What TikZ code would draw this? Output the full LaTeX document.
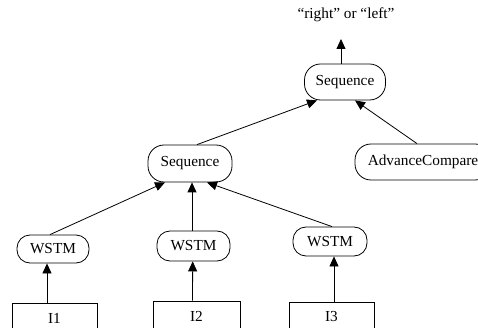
\documentclass[tikz,border=0pt]{standalone}
\usepackage{fontspec}
\setmainfont{Liberation Serif}
\usetikzlibrary{arrows.meta}
\begin{document}
\begin{tikzpicture}[x=1pt,y=-1pt,
  every node/.style={font=\fontsize{15.3}{18}\selectfont, inner sep=0pt},
  pill/.style={draw, line width=0.8pt, rounded corners=16pt},
  leaf/.style={draw, line width=0.8pt, minimum height=30pt},
  link/.style={line width=0.8pt, -{Triangle[length=10pt,width=9pt]}}]
\useasboundingbox (0,0) rectangle (478,328);

% result label and the sequence tree
\node (out) at (346,15) {“right” or “left”};
\coordinate (tip) at (341,39);
\node[pill, minimum width=81pt, minimum height=36pt] (s0) at (345,82) {Sequence};
\node[pill, minimum width=84pt, minimum height=37pt] (s1) at (190,163.5) {Sequence};
\node[pill, minimum width=136pt, minimum height=36pt] (ac) at (423,162) {AdvanceCompare};

% WSTM nodes
\node[pill, minimum width=72pt, minimum height=28pt, rounded corners=13pt] (w1) at (53,249) {WSTM};
\node[pill, minimum width=73pt, minimum height=30pt, rounded corners=13pt] (w2) at (193.5,246) {WSTM};
\node[pill, minimum width=74pt, minimum height=29pt, rounded corners=13pt] (w3) at (330,241.5) {WSTM};

% inputs
\node[leaf, minimum width=85pt] (i1) at (54.5,318) {I1};
\node[leaf, minimum width=87pt] (i2) at (196.5,316) {I2};
\node[leaf, minimum width=85pt] (i3) at (331.5,317) {I3};

% connectors
\draw[link] ([xshift=-7.5]i1.north) -- ([xshift=-6]w1.south);
\draw[link] ([xshift=-4]i2.north) -- ([xshift=-0.8]w2.south);
\draw[link] ([xshift=2.5]i3.north) -- ([xshift=4]w3.south);
\draw[link] ([xshift=-3]w1.north) -- ([xshift=-25]s1.south);
\draw[link] ([xshift=-1.5]w2.north) -- ([xshift=2]s1.south);
\draw[link] ([xshift=2]w3.north) -- ([xshift=17]s1.south);
\draw[link] ([xshift=7]s1.north) -- ([xshift=-28]s0.south);
\draw[link] ([xshift=-6]ac.north) -- ([xshift=10]s0.south);
\draw[link] ([xshift=-4]s0.north) -- (tip);
\end{tikzpicture}
\end{document}
